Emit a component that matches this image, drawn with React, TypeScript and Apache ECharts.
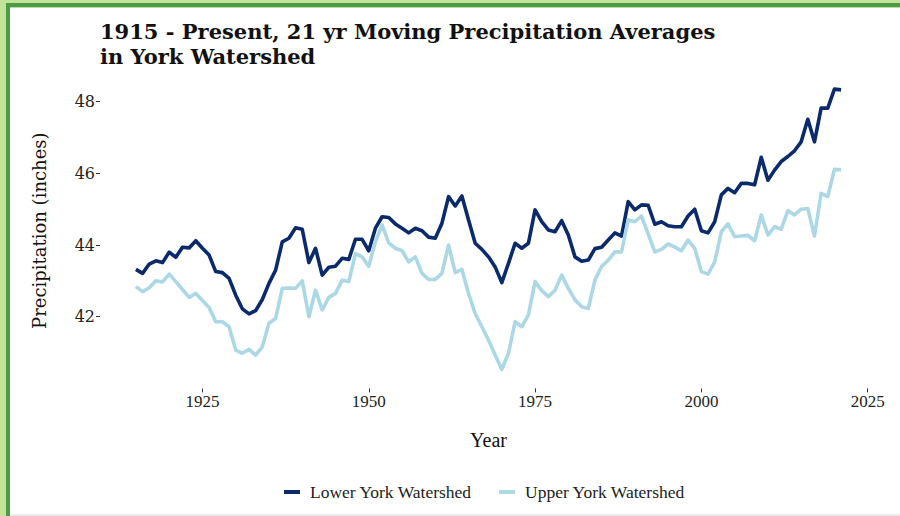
import React, { useEffect, useRef } from "react";
import * as echarts from "echarts";

const START_YEAR = 1915;

const lowerYork: number[] = [
  43.32, 43.21, 43.47, 43.56, 43.51, 43.8, 43.66, 43.94, 43.92, 44.12,
  43.91, 43.72, 43.26, 43.23, 43.07, 42.6, 42.22, 42.08, 42.17, 42.48,
  42.93, 43.3, 44.09, 44.19, 44.48, 44.44, 43.51, 43.91, 43.16, 43.38,
  43.41, 43.63, 43.6, 44.16, 44.16, 43.84, 44.47, 44.79, 44.77, 44.59,
  44.47, 44.34, 44.47, 44.4, 44.22, 44.19, 44.61, 45.35, 45.09, 45.37,
  44.7, 44.05, 43.88, 43.67, 43.39, 42.95, 43.49, 44.05, 43.91, 44.05,
  44.98, 44.65, 44.42, 44.37, 44.68, 44.28, 43.67, 43.55, 43.58, 43.9,
  43.94, 44.14, 44.34, 44.25, 45.21, 44.98, 45.12, 45.11, 44.58, 44.65,
  44.54, 44.51, 44.51, 44.81, 45.0, 44.4, 44.34, 44.65, 45.4, 45.58,
  45.46, 45.72, 45.72, 45.68, 46.45, 45.81, 46.09, 46.33, 46.47, 46.63,
  46.88, 47.51, 46.88, 47.82, 47.82, 48.35, 48.33,
];

const upperYork: number[] = [
  42.84, 42.7, 42.81, 43.0, 42.97, 43.19, 42.98, 42.76, 42.54, 42.65,
  42.45, 42.26, 41.86, 41.86, 41.72, 41.07, 40.98, 41.09, 40.93, 41.16,
  41.82, 41.95, 42.79, 42.8, 42.79, 43.0, 42.0, 42.74, 42.19, 42.54,
  42.65, 43.02, 42.98, 43.76, 43.67, 43.41, 44.09, 44.56, 44.06, 43.91,
  43.84, 43.53, 43.67, 43.21, 43.04, 43.04, 43.21, 44.0, 43.23, 43.32,
  42.65, 42.09, 41.72, 41.35, 40.93, 40.53, 40.98, 41.86, 41.72, 42.05,
  42.98, 42.73, 42.56, 42.74, 43.16, 42.79, 42.47, 42.28, 42.23, 43.02,
  43.4, 43.58, 43.81, 43.81, 44.7, 44.65, 44.81, 44.31, 43.81, 43.88,
  44.03, 43.94, 43.84, 44.14, 43.91, 43.26, 43.19, 43.53, 44.37, 44.59,
  44.23, 44.25, 44.27, 44.12, 44.84, 44.28, 44.51, 44.44, 44.96, 44.84,
  45.0, 45.02, 44.25, 45.44, 45.35, 46.11, 46.1,
];

const xTicks: number[] = [1925, 1950, 1975, 2000, 2025];
const yTicks: number[] = [42, 44, 46, 48];
const seriesNames: string[] = ["Lower York Watershed", "Upper York Watershed"];
const seriesColors: string[] = ["#0a2a6c", "#acd8e5"];

const toPairs = (vals: number[]) => vals.map((v, i) => [START_YEAR + i, v]);

export default function App() {
  const ref = useRef<HTMLDivElement>(null);

  useEffect(() => {
    if (!ref.current) return;
    const chart = echarts.init(ref.current, undefined, { renderer: "svg" });
    const serif = "'DejaVu Serif', serif";
    const narrowSerif = "'Liberation Serif', serif";
    chart.setOption({
      animation: false,
      backgroundColor: "transparent",
      title: {
        text: "1915 - Present, 21 yr Moving Precipitation Averages\nin York Watershed",
        left: 100,
        top: 19,
        padding: 0,
        textStyle: {
          fontFamily: serif,
          fontWeight: "bold",
          fontSize: 21,
          lineHeight: 25,
          color: "#111",
        },
      },
      legend: {
        left: 284,
        top: 483,
        padding: 0,
        icon: "rect",
        itemWidth: 16,
        itemHeight: 4,
        itemGap: 27,
        data: seriesNames,
        textStyle: {
          fontFamily: narrowSerif,
          fontSize: 17.5,
          color: "#222",
          padding: [0, 0, 0, 5],
        },
      },
      grid: {
        left: 100,
        right: 23,
        top: 73,
        bottom: 127.6,
        containLabel: false,
        outerBoundsMode: "none",
      },
      xAxis: {
        type: "value",
        min: 1909.6,
        max: 2026.4,
        name: "Year",
        nameLocation: "middle",
        nameGap: 42,
        nameTextStyle: { fontFamily: narrowSerif, fontSize: 20, color: "#111" },
        axisLine: { show: false },
        splitLine: { show: false },
        axisTick: {
          show: true,
          length: 4,
          customValues: xTicks,
          lineStyle: { color: "#333", width: 1 },
        },
        axisLabel: {
          customValues: xTicks,
          margin: 5,
          fontFamily: narrowSerif,
          fontSize: 17,
          color: "#222",
          formatter: (v: number) => String(v),
        },
      },
      yAxis: {
        type: "value",
        min: 40,
        max: 48.8,
        name: "Precipitation (inches)",
        nameLocation: "middle",
        nameGap: 52,
        nameTextStyle: { fontFamily: serif, fontSize: 18, color: "#111" },
        axisLine: { show: false },
        splitLine: { show: false },
        axisTick: {
          show: true,
          length: 4,
          customValues: yTicks,
          lineStyle: { color: "#333", width: 1 },
        },
        axisLabel: {
          customValues: yTicks,
          margin: 5,
          fontFamily: serif,
          fontSize: 16,
          color: "#222",
          formatter: (v: number) => String(v),
        },
      },
      series: [
        {
          name: seriesNames[0],
          type: "line",
          data: toPairs(lowerYork),
          showSymbol: false,
          symbol: "none",
          color: seriesColors[0],
          lineStyle: { width: 3.6, color: seriesColors[0], join: "round" },
        },
        {
          name: seriesNames[1],
          type: "line",
          data: toPairs(upperYork),
          showSymbol: false,
          symbol: "none",
          color: seriesColors[1],
          lineStyle: { width: 3.6, color: seriesColors[1], join: "round" },
        },
      ],
    });
    return () => chart.dispose();
  }, []);

  return (
    <div
      style={{
        position: "absolute",
        left: 0,
        top: 0,
        width: 900,
        height: 516,
        background: "#fff",
        overflow: "hidden",
      }}
    >
      <div ref={ref} style={{ position: "absolute", left: 0, top: 0, width: 900, height: 516 }} />
      <div style={{ position: "absolute", left: 0, top: 0, width: 6, height: 516, background: "#c4e39a" }} />
      <div style={{ position: "absolute", left: 0, top: 0, width: 900, height: 3, background: "#c4e39a" }} />
      <div style={{ position: "absolute", left: 6, top: 3, width: 4, height: 513, background: "#4d9a47" }} />
      <div style={{ position: "absolute", left: 6, top: 3, width: 894, height: 4, background: "#4d9a47" }} />
      <div style={{ position: "absolute", left: 10, top: 7, width: 890, height: 1, background: "#b9dca0" }} />
      <div style={{ position: "absolute", left: 10, top: 514, width: 890, height: 2, background: "#ececec" }} />
    </div>
  );
}
